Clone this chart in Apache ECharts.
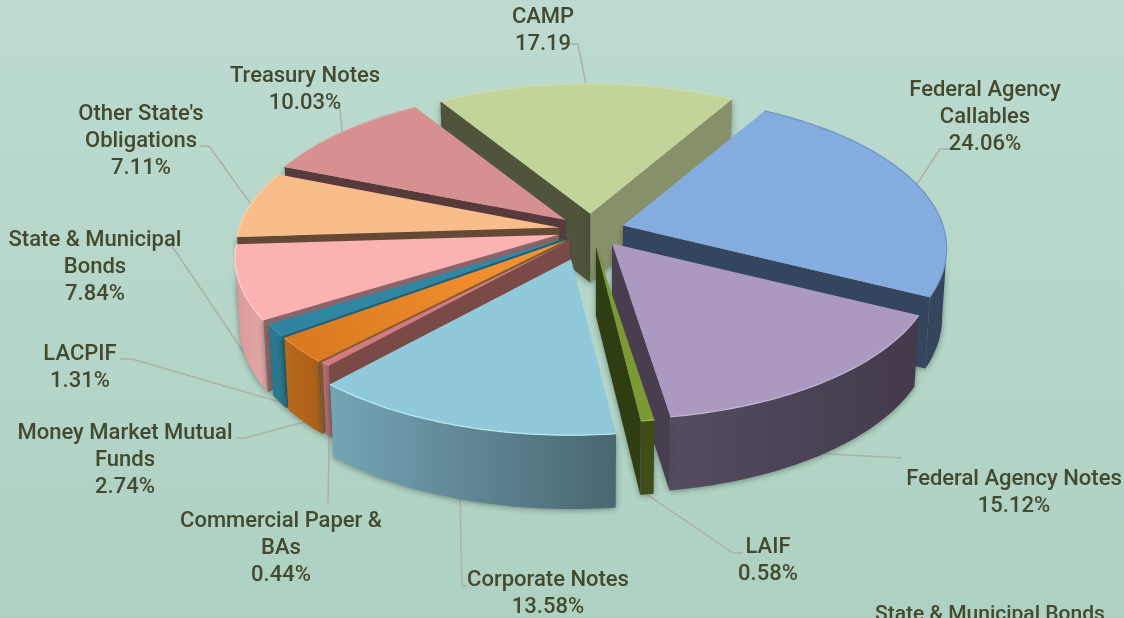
<!DOCTYPE html>
<html>
<head>
<meta charset="utf-8">
<script src="https://cdn.jsdelivr.net/npm/echarts@6/dist/echarts.min.js"></script>
<style>
  html, body { margin: 0; padding: 0; overflow: hidden; }
  #chart { width: 1124px; height: 618px; }
</style>
</head>
<body>
<div id="chart"></div>
<script>
// data, clockwise from the first slice
const names = ['Federal Agency\nCallables', 'Federal Agency Notes', 'LAIF', 'Corporate Notes', 'Commercial Paper &\nBAs', 'Money Market Mutual\nFunds', 'LACPIF', 'State & Municipal\nBonds', "Other State's\nObligations", 'Treasury Notes', 'CAMP']
const values = [24.06, 15.12, 0.58, 13.58, 0.44, 2.74, 1.31, 7.84, 7.11, 10.03, 17.19]
const valueLabels = ['24.06%', '15.12%', '0.58%', '13.58%', '0.44%', '2.74%', '1.31%', '7.84%', '7.11%', '10.03%', '17.19']
const explode = [0.105, 0.11, 0.11, 0.2, 0.095, 0.1, 0.1, 0.105, 0.1, 0.105, 0.11]

// colours
const topColors = ['#84acdf', '#ab99c0', '#7c9a34', '#90cada', '#d07c82', ['#fb9632', '#d8771f'], ['#2f8aa3', '#2e84a0'], '#fdb2b2', '#f8bd8b', '#d69090', '#c3d49a']
const sideWalls = ['#34465e', '#483e50', '#2f3d12', '#4a6874', '#7a4a47', '#8a5a30', '#1f6078', '#8a6468', '#644a34', '#573a3c', '#50543b']
const outerWalls = [['#34465e', '#34465e'], ['#544c60', '#443a4c'], ['#3f4d18', '#3f4d18'], ['#74a5b5', '#4a6672'], ['#b56c72', '#b56c72'], ['#ba691c', '#aa5e18'], ['#287890', '#287890'], ['#d89a9a', '#e6a6a6'], ['#c89a70', '#c89a70'], ['#a87070', '#a87070'], ['#879169', '#879169']]
const rimColors = ['#6f95c6', '#c4b5d6', '#9cb850', '#bce9f6', '#d88a90', '#e09040', '#3a94ac', '#ffd2d2', '#fcd0a4', '#dca0a0', '#cfdcaa']
const campEndWall = '#879169'

// back to front
const drawOrder = [10, 0, 9, 8, 7, 6, 5, 4, 1, 2, 3]

// label block centre and the elbow points of each leader, nearest the label first
const labelLayout = [
  { x: 985, y: 117, line: [[950, 149], [940, 149]] },
  { x: 1014, y: 493, line: [[902, 458]] },
  { x: 768, y: 561, line: [[743, 553], [733, 553]] },
  { x: 548, y: 594, line: [[466, 586], [462, 586]] },
  { x: 281, y: 548, line: [[328, 503]] },
  { x: 125, y: 460, line: [[236, 438], [245, 438]] },
  { x: 80, y: 368, line: [[120, 359], [132, 359]] },
  { x: 95, y: 267, line: [[166, 246], [172, 246]] },
  { x: 141, y: 141, line: [[200, 146], [209, 146]] },
  { x: 305, y: 90, line: [[340, 108]] },
  { x: 543, y: 31, line: [[566, 44], [578, 44]] }
]

const cx = 591, cy = 230, rx = 320, ry = 149.5, persp = 0.15
const firstAngle = 30
const total = values.reduce((a, b) => a + b, 0)

const textColor = '#434a30'
const font = 'Roboto'

function rad(a) { return a * Math.PI / 180 }
function scaleAt(v) { return 1 / (1 + persp * v) }
function lower(p, v) {
  const d = 69 * (1 - 0.07 * v)
  return [cx + (p[0] - cx) * 0.987, p[1] + d]
}

const angles = []
let acc = firstAngle
values.forEach(v => {
  const span = v / total * 360
  angles.push([acc, acc + span])
  acc += span
})

// apex of a slice after it is pulled out along its middle angle
function apexOf(i) {
  const mid = (angles[i][0] + angles[i][1]) / 2
  const u = explode[i] * Math.sin(rad(mid))
  const v = explode[i] * Math.cos(rad(mid))
  const s = scaleAt(v)
  return [cx + rx * u * s, cy - ry * v * s]
}
function rimPoint(i, a) {
  const apex = apexOf(i)
  const u = Math.sin(rad(a)), v = Math.cos(rad(a))
  const s = scaleAt(v)
  return { p: [apex[0] + rx * u * s, apex[1] - ry * v * s], v: v }
}

function sliceGroup(i) {
  const a0 = angles[i][0], a1 = angles[i][1]
  const apex = apexOf(i)
  const arc = []
  const steps = Math.max(2, Math.ceil(a1 - a0))
  for (let k = 0; k <= steps; k++) arc.push(rimPoint(i, a0 + (a1 - a0) * k / steps))
  const top = arc.map(d => d.p)
  const last = arc.length - 1
  const apexLow = lower(apex, 0)
  const shadow = { shadowBlur: 6, shadowColor: 'rgba(50,70,55,0.55)', shadowOffsetY: 1 }
  const topFill = Array.isArray(topColors[i])
    ? new echarts.graphic.LinearGradient(1, 0, 0, 1, [{ offset: 0, color: topColors[i][0] }, { offset: 1, color: topColors[i][1] }])
    : topColors[i]
  const children = []

  // outer wall: only the part of the rim that faces the viewer
  const front = arc.filter(d => d.v < -persp)
  if (front.length > 1) {
    const up = front.map(d => d.p)
    const low = front.map(d => lower(d.p, d.v))
    children.push({
      type: 'polygon',
      shape: { points: up.concat(low.reverse()) },
      style: {
        fill: new echarts.graphic.LinearGradient(0, 0, 1, 0, [
          { offset: 0, color: outerWalls[i][0] },
          { offset: 1, color: outerWalls[i][1] }
        ]),
        ...shadow
      }
    })
  }
  // cut faces
  if (Math.sin(rad(a0)) < 0) {
    children.push({
      type: 'polygon',
      shape: { points: [apex, top[0], lower(top[0], arc[0].v), apexLow] },
      style: { fill: sideWalls[i], ...shadow }
    })
  }
  if (Math.sin(rad(a1)) > 0) {
    children.push({
      type: 'polygon',
      shape: { points: [apex, top[last], lower(top[last], arc[last].v), apexLow] },
      style: { fill: i === 10 ? campEndWall : sideWalls[i], ...shadow }
    })
  }
  children.push({ type: 'polygon', shape: { points: [apex].concat(top) }, style: { fill: topFill } })
  children.push({ type: 'polyline', shape: { points: top }, style: { stroke: rimColors[i], lineWidth: 1.2, fill: null } })
  return { type: 'group', children: children }
}

function labelGroup(i) {
  const mid = (angles[i][0] + angles[i][1]) / 2
  const rim = rimPoint(i, mid)
  const end = rim.v < -0.2 ? lower(rim.p, rim.v) : rim.p
  const l = labelLayout[i]
  return {
    type: 'group',
    children: [
      { type: 'polyline', shape: { points: l.line.concat([end]) }, style: { stroke: '#adb0aa', lineWidth: 1.5, fill: null } },
      {
        type: 'text',
        style: {
          text: names[i] + '\n' + valueLabels[i],
          x: l.x, y: l.y,
          align: 'center', verticalAlign: 'middle',
          fill: textColor, fontFamily: font, fontSize: 22, fontWeight: 500, lineHeight: 27
        }
      }
    ]
  }
}

const chart = echarts.init(document.getElementById('chart'))
chart.setOption({
  animation: false,
  backgroundColor: new echarts.graphic.LinearGradient(0, 0, 0, 1, [
    { offset: 0, color: '#bddbd0' },
    { offset: 1, color: '#aed1c2' }
  ]),
  graphic: [{
    type: 'text',
    left: 875,
    top: 604,
    style: { text: 'State & Municipal Bonds', fill: textColor, fontFamily: font, fontSize: 21, fontWeight: 500 }
  }],
  series: [
    {
      type: 'custom',
      coordinateSystem: 'none',
      z: 1,
      data: values.map((v, i) => [i, v]),
      renderItem: (params, api) => labelGroup(api.value(0))
    },
    {
      type: 'custom',
      coordinateSystem: 'none',
      z: 2,
      data: drawOrder.map(i => [i, values[i]]),
      renderItem: (params, api) => sliceGroup(api.value(0))
    }
  ]
})
</script>
</body>
</html>
